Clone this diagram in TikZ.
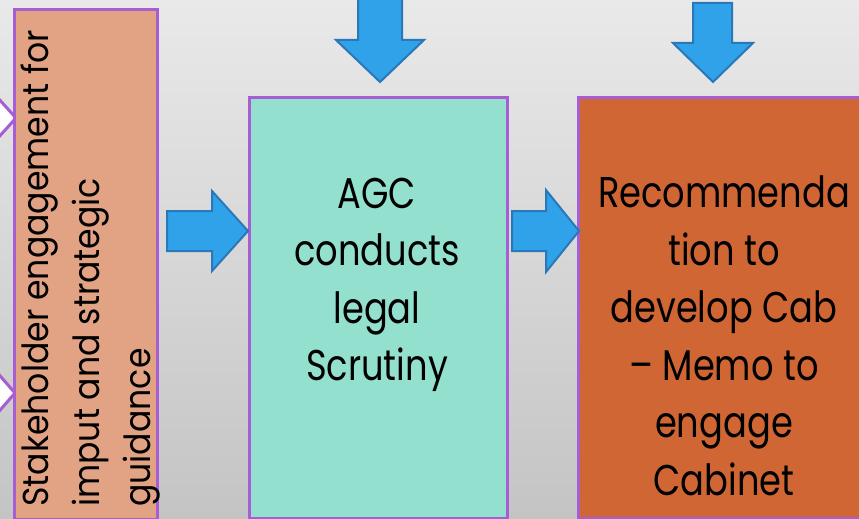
\documentclass[tikz,border=0pt]{standalone}
\usepackage{graphicx}
\usepackage{fontspec}
\setmainfont{Poppins}
\definecolor{bgtop}{HTML}{E9E9E9}
\definecolor{bgbot}{HTML}{C4C4C4}
\definecolor{boxline}{HTML}{A65ED2}
\definecolor{salmon}{HTML}{E2A385}
\definecolor{tealbox}{HTML}{93E0CF}
\definecolor{orangebox}{HTML}{CF6633}
\definecolor{arrowfill}{HTML}{2FA2EA}
\definecolor{arrowline}{HTML}{2A78B8}
\newcommand\nrwbig[1]{\scalebox{0.82}[1]{#1}}
\newcommand\nrwside[1]{\scalebox{0.92}[1]{#1}}
\begin{document}
\begin{tikzpicture}[x=1pt,y=-1pt,
  box/.style={draw=boxline, line width=3pt, inner sep=0pt, anchor=north west},
  barrow/.style={fill=arrowfill, draw=arrowline, line width=2pt, line join=miter},
  tri/.style={fill=white, draw=boxline, line width=3pt},
  bigtxt/.style={font=\fontsize{43}{50}\selectfont, anchor=base, inner sep=0pt},
  sidetxt/.style={font=\fontsize{36}{40}\selectfont, anchor=base west, rotate=90, inner sep=0pt}]
\useasboundingbox (0,0) rectangle (859,519);
\shade[top color=bgtop, bottom color=bgbot] (0,0) rectangle (859,519);
\begin{scope}
\clip (0,0) rectangle (859,519);
% white pointers on the left edge
\draw[tri] (-12,87) -- (16,118) -- (-12,149) -- cycle;
\draw[tri] (-12,362) -- (15,393) -- (-12,424) -- cycle;
% boxes
\node[box, fill=salmon, minimum width=143pt, minimum height=510pt] (stake) at (13,8) {};
\node[box, fill=tealbox, minimum width=258pt, minimum height=421pt] (agc) at (248,96) {};
\node[box, fill=orangebox, minimum width=300pt, minimum height=421pt] (rec) at (577,96) {};
% block arrows
\draw[barrow] (167,211) -- (212,211) -- (212,191) -- (248,231) -- (212,271) -- (212,251) -- (167,251) -- cycle;
\draw[barrow] (512,211) -- (546,211) -- (546,190) -- (579,231) -- (546,272) -- (546,251) -- (512,251) -- cycle;
\draw[barrow] (358,-5) -- (402,-5) -- (402,40) -- (424,40) -- (380,82) -- (336,40) -- (358,40) -- cycle;
\draw[barrow] (693,3) -- (732,3) -- (732,43) -- (753,43) -- (713,82) -- (673,43) -- (693,43) -- cycle;
% side text
\node[sidetxt] (s1) at (48,507) {\nrwside{Stakeholder engagement for}};
\node[sidetxt] (s2) at (99,507) {\nrwside{imput and strategic}};
\node[sidetxt] (s3) at (150,507) {\nrwside{guidance}};
\end{scope}
% middle text
\node[bigtxt] (a1) at (377,208) {\nrwbig{AGC}};
\node[bigtxt] (a2) at (377,265) {\nrwbig{conducts}};
\node[bigtxt] (a3) at (377,323) {\nrwbig{legal}};
\node[bigtxt] (a4) at (377,380) {\nrwbig{Scrutiny}};
% right text
\node[bigtxt] (r1) at (724,207) {\nrwbig{Recommenda}};
\node[bigtxt] (r2) at (724,265) {\nrwbig{tion to}};
\node[bigtxt] (r3) at (724,322) {\nrwbig{develop Cab}};
\node[bigtxt] (r4) at (724,380) {\nrwbig{– Memo to}};
\node[bigtxt] (r5) at (724,437) {\nrwbig{engage}};
\node[bigtxt] (r6) at (724,495) {\nrwbig{Cabinet}};
\end{tikzpicture}
\end{document}
